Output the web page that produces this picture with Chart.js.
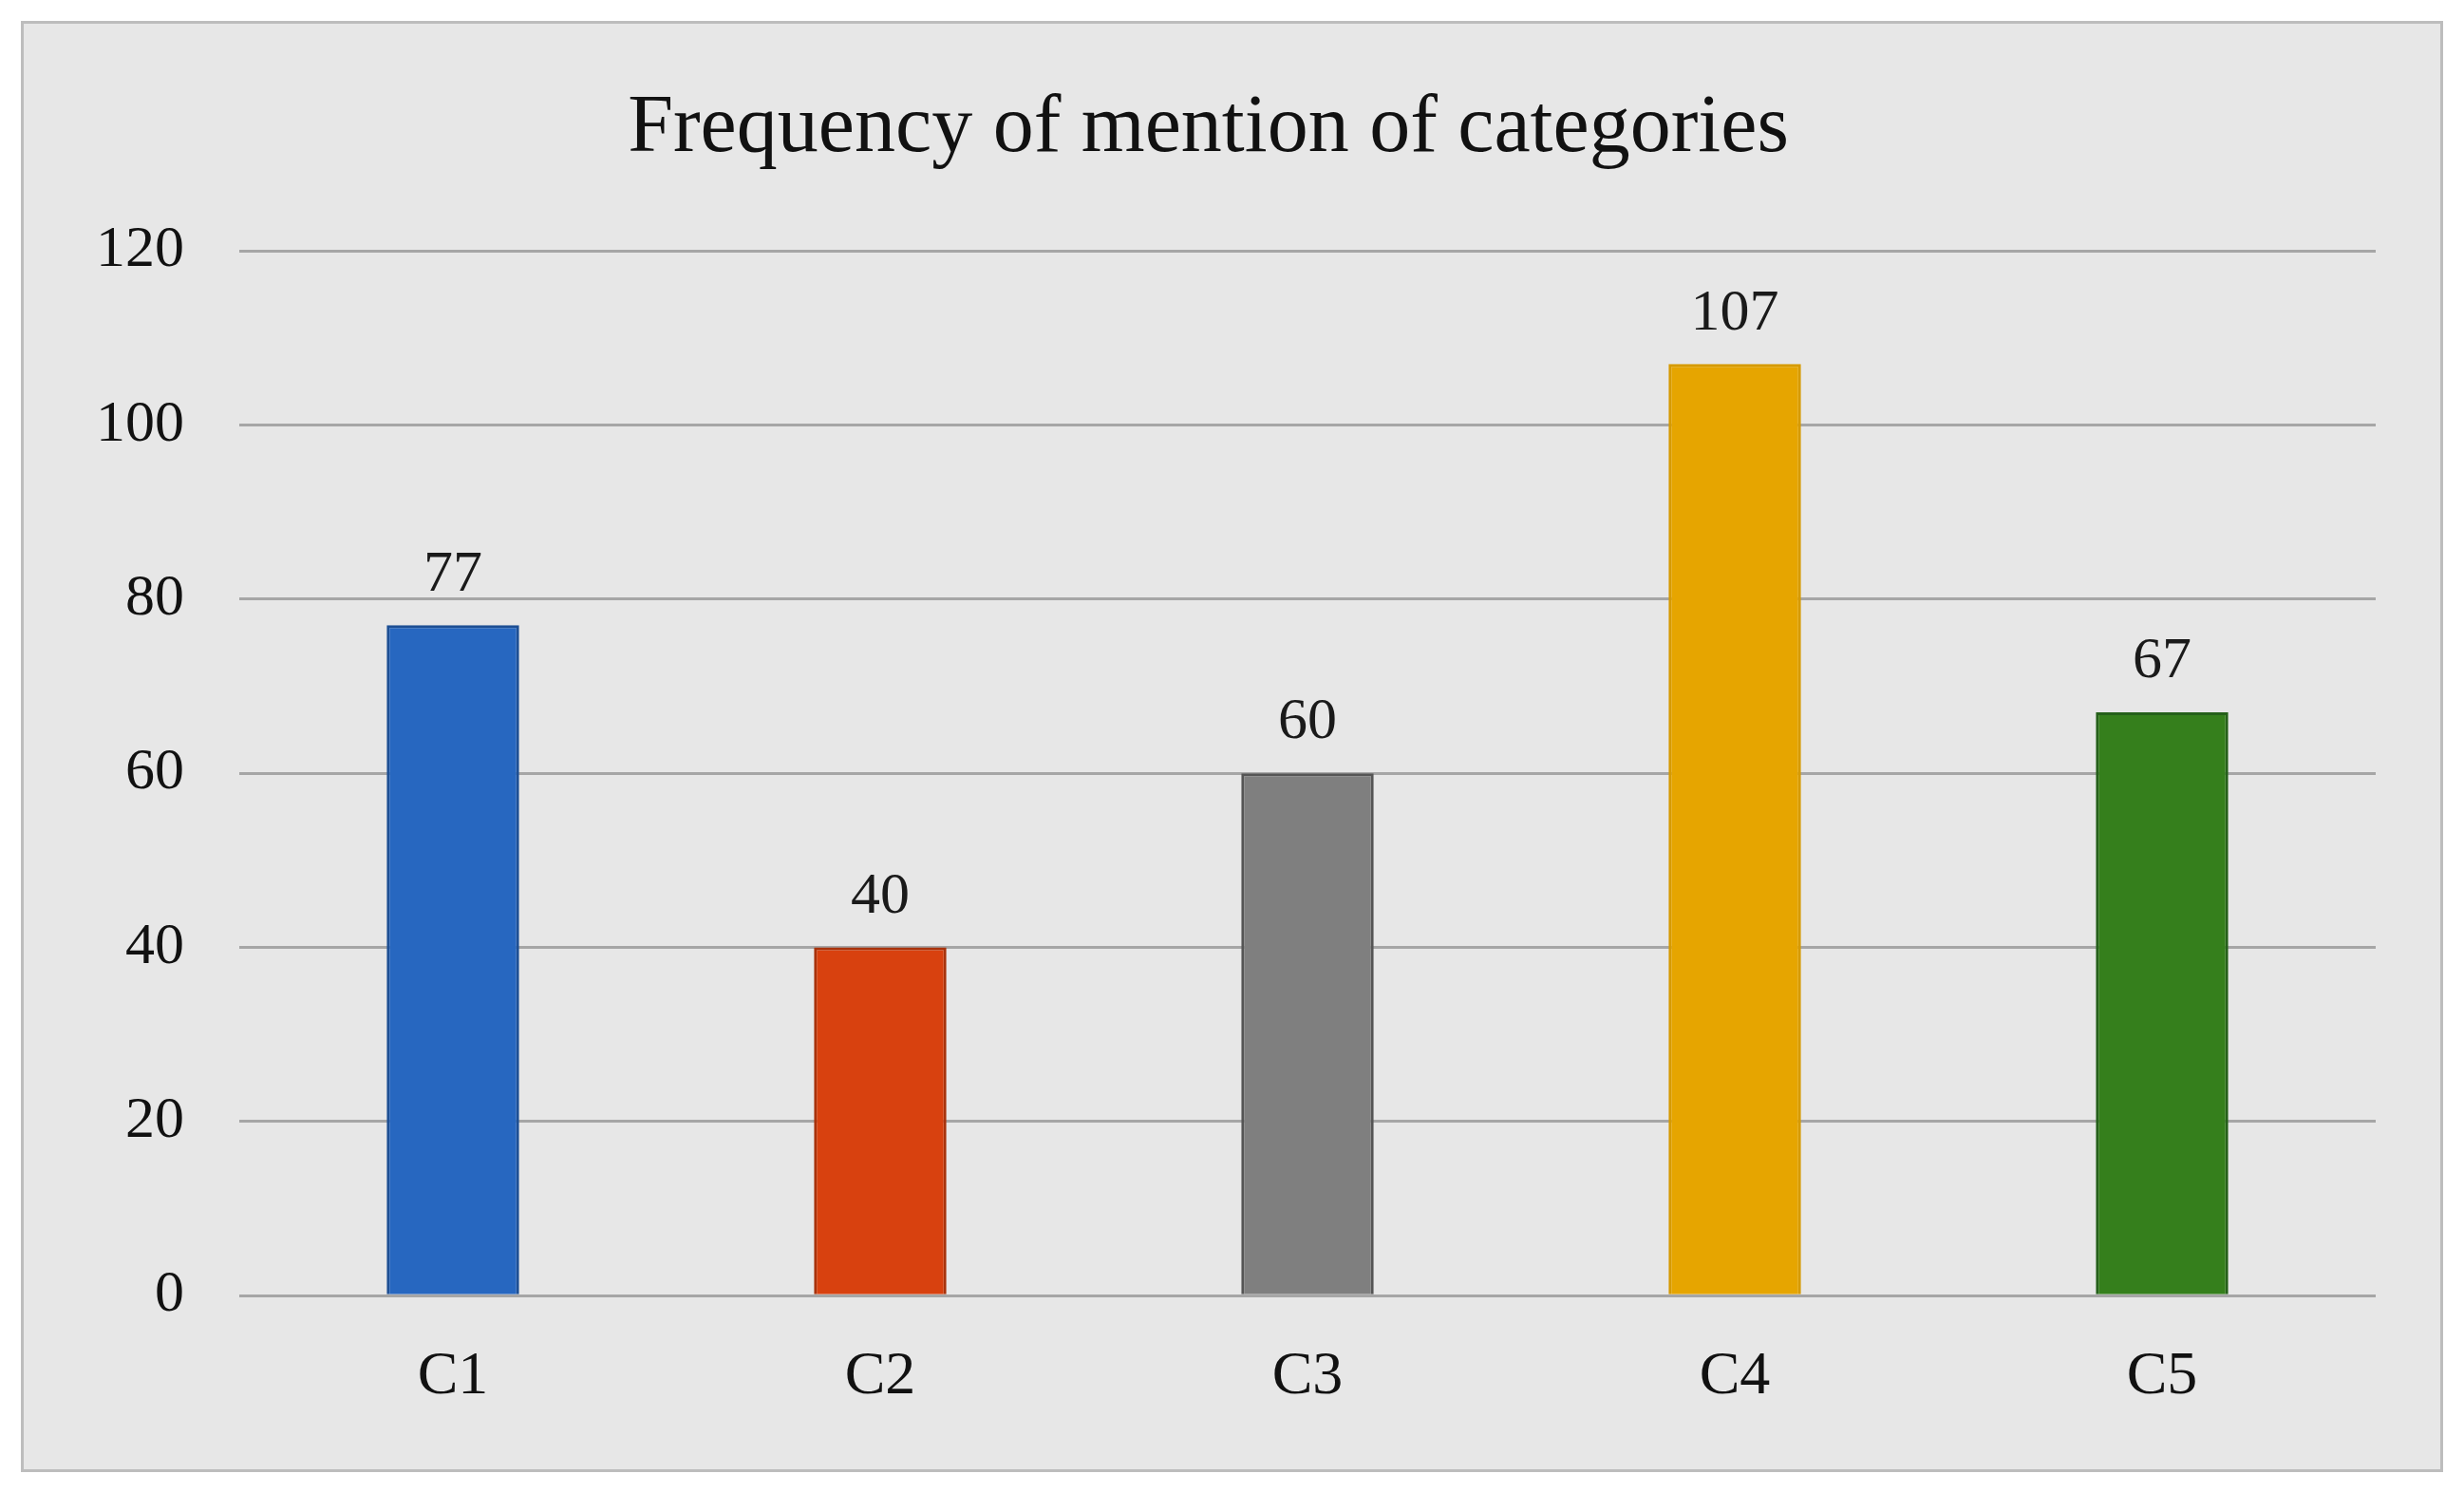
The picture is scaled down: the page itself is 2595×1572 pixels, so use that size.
<!DOCTYPE html>
<html>
<head>
<meta charset="utf-8">
<script src="https://cdn.jsdelivr.net/npm/chart.js@4"></script>
<style>
  html, body { margin: 0; background: #fff; }
  #frame { position: absolute; left: 22px; top: 22px; width: 2545px; height: 1522px;
           background: #e7e7e7; border: 3px solid #bdbdbd; }
  canvas { display: block; }
</style>
</head>
<body>
<div id="frame"><canvas id="freqChart"></canvas></div>
<script>
const categories = ['C1', 'C2', 'C3', 'C4', 'C5']
const mentions = [77, 40, 60, 107, 67]
const barColors = ['#2767c0', '#d8410f', '#7f7f7f', '#e6a500', '#357f1c']
const barBorders = ['#1d4f94', '#a8320b', '#555555', '#d69a00', '#25601a']
const yTicks = [0, 20, 40, 60, 80, 100, 120]

const serif = '"Liberation Serif", "DejaVu Serif", serif'

// draw the value above each bar
const valueLabels = {
    id: 'valueLabels',
    afterDatasetsDraw(chart) {
        const ctx = chart.ctx
        const meta = chart.getDatasetMeta(0)
        ctx.save()
        ctx.font = '62px ' + serif
        ctx.fillStyle = '#1a1a1a'
        ctx.textAlign = 'center'
        ctx.textBaseline = 'bottom'
        meta.data.forEach((bar, i) => {
            ctx.fillText(mentions[i], bar.x, bar.y - 22)
        })
        ctx.restore()
    }
}

Chart.defaults.font.family = serif

new Chart(document.getElementById('freqChart'), {
    type: 'bar',
    data: {
        labels: categories,
        datasets: [{
            label: 'Frequency',
            data: mentions,
            backgroundColor: barColors,
            borderColor: barBorders,
            borderWidth: 3,
            categoryPercentage: 1,
            barPercentage: 0.31
        }]
    },
    options: {
        responsive: true,
        maintainAspectRatio: false,
        animation: false,
        layout: { padding: { left: 18, right: 68, top: 10, bottom: 18 } },
        plugins: {
            legend: { display: false },
            tooltip: { enabled: false },
            title: {
                display: true,
                text: 'Frequency of mention of categories',
                color: '#111',
                font: { size: 86, family: serif, weight: 'normal' },
                padding: { top: 50, bottom: 76 }
            }
        },
        scales: {
            x: {
                grid: { display: false },
                border: { display: false },
                ticks: { color: '#111', font: { size: 64 }, padding: 40 }
            },
            y: {
                min: 0,
                max: 120,
                afterBuildTicks(axis) { axis.ticks = yTicks.map(v => ({ value: v })) },
                grid: { color: '#a6a6a6', lineWidth: 3, drawTicks: false },
                border: { display: false },
                ticks: { color: '#111', font: { size: 62 }, padding: 58 }
            }
        }
    },
    plugins: [valueLabels]
})
</script>
</body>
</html>
